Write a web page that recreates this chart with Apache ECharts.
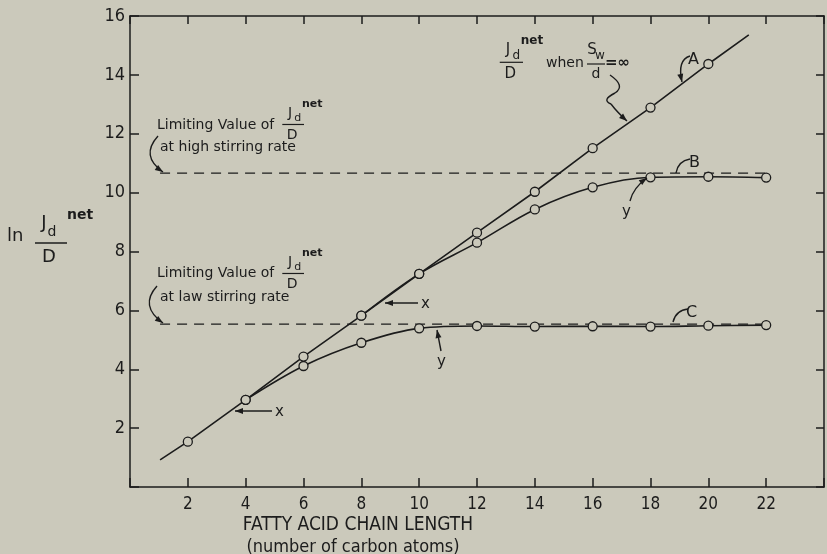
<!DOCTYPE html>
<html><head><meta charset="utf-8">
<script src="https://cdn.jsdelivr.net/npm/echarts@6/dist/echarts.min.js"></script>
<style>html,body{margin:0;padding:0;background:#cbc9bb}#c{width:827px;height:554px}</style>
</head><body><div id="c"></div>
<script>
// ---- data ----
const xTicks = [2, 4, 6, 8, 10, 12, 14, 16, 18, 20, 22];
const yTicks = [2, 4, 6, 8, 10, 12, 14, 16];
// curve A (J/D when Sw/d = infinity): points
const aX = [2, 4, 6, 8, 10, 12, 14, 16, 18, 20];
const aY = [1.54, 2.96, 4.43, 5.82, 7.24, 8.64, 10.03, 11.51, 12.89, 14.37];
// curve A drawn line extent
const aLineStart = [1.04, 0.92];
const aLineEnd = [21.4, 15.36];
// curve B (high stirring rate)
const bX = [8, 10, 12, 14, 16, 18, 20, 22];
const bY = [5.82, 7.24, 8.30, 9.43, 10.18, 10.52, 10.54, 10.51];
// curve C (low stirring rate)
const cX = [4, 6, 8, 10, 12, 14, 16, 18, 20, 22];
const cY = [2.96, 4.11, 4.90, 5.39, 5.47, 5.45, 5.46, 5.45, 5.48, 5.50];
// limiting values (dashed lines)
const limitHigh = 10.66;
const limitLow = 5.53;
const limitXRange = [1.04, 22];

const INK = '#1c1c1c', BG = '#cbc9bb';
const FONT = 'DejaVu Sans';
const NARROW = '"Liberation Sans Narrow","DejaVu Sans Condensed","Liberation Sans",sans-serif';

const chart = echarts.init(document.getElementById('c'));

function pts(xs, ys) { return xs.map((x, i) => [x, ys[i]]); }
const symStyle = { color: BG, borderColor: INK, borderWidth: 1.3 };

const aData = [{ value: aLineStart, symbol: 'none' }]
  .concat(pts(aX, aY).map(p => ({ value: p })))
  .concat([{ value: aLineEnd, symbol: 'none' }]);

function dashed(v) {
  return {
    type: 'line', data: [[limitXRange[0], v], [limitXRange[1], v]], symbol: 'none',
    lineStyle: { color: INK, width: 1.3, type: [10, 7] }, z: 1, silent: true
  };
}

// ---- annotation helpers ----
function txt(x, y, s, size, opts) {
  return Object.assign({
    type: 'text', x: x, y: y, z: 50,
    style: Object.assign({ text: s, fill: INK, font: size + 'px ' + FONT, textAlign: 'left', textVerticalAlign: 'middle' }, opts || {})
  });
}
function line(x1, y1, x2, y2, w) {
  return { type: 'line', z: 50, shape: { x1, y1, x2, y2 }, style: { stroke: INK, lineWidth: w || 1.3 } };
}
function head(tx, ty, fx, fy) {
  const dx = tx - fx, dy = ty - fy, L = Math.hypot(dx, dy), ux = dx / L, uy = dy / L;
  const bl = 8, bw = 3;
  const bx = tx - ux * bl, by = ty - uy * bl;
  return { type: 'polygon', z: 50, shape: { points: [[tx, ty], [bx - uy * bw, by + ux * bw], [bx + uy * bw, by - ux * bw]] }, style: { fill: INK } };
}
function curve(x1, y1, cx, cy, x2, y2, arrow) {
  const out = [{ type: 'bezierCurve', z: 50, shape: { x1, y1, x2, y2, cpx1: cx, cpy1: cy }, style: { stroke: INK, lineWidth: 1.4, fill: null } }];
  if (arrow) out.push(head(x2, y2, cx, cy));
  return out;
}
function arrowLine(x1, y1, x2, y2) { return [line(x1, y1, x2, y2, 1.4), head(x2, y2, x1, y1)]; }
function frac(jx, jy, size) {
  // J_d^net over D
  const s = size;
  return [
    txt(jx, jy, 'J', s, { textAlign: 'center' }),
    txt(jx + s * 0.55, jy + s * 0.38, 'd', Math.round(s * 0.8), { textAlign: 'center' }),
    txt(jx + s * 0.85, jy - s * 0.62, 'net', Math.round(s * 0.82), { font: 'bold ' + Math.round(s * 0.82) + 'px ' + FONT }),
    line(jx - s * 0.55, jy + s * 0.82, jx + s * 1.0, jy + s * 0.82, 1.2),
    txt(jx + s * 0.15, jy + s * 1.6, 'D', s, { textAlign: 'center' })
  ];
}

const g = [];
// y-axis title: ln J_d^net / D
g.push(txt(7, 236, 'ln', 18));
g.push(txt(44, 223, 'J', 18, { textAlign: 'center' }));
g.push(txt(52, 232, 'd', 14, { textAlign: 'center' }));
g.push(txt(67, 215, 'net', 14, { font: 'bold 14px ' + FONT }));
g.push(line(35, 243, 67, 243, 1.5));
g.push(txt(49, 257, 'D', 18, { textAlign: 'center' }));
// x-axis title
g.push(txt(358, 525, 'FATTY ACID CHAIN LENGTH', 19, { textAlign: 'center', font: '19px ' + NARROW }));
g.push(txt(353, 547, '(number of carbon atoms)', 18, { textAlign: 'center', font: '18px ' + NARROW }));

// high-stirring annotation
g.push(txt(157, 125, 'Limiting Value of', 14));
g.push(...frac(290, 113, 14));
g.push(txt(160, 147, 'at high stirring rate', 14));
g.push(...curve(158, 136, 140, 156, 163, 172, true));
// low-stirring annotation
g.push(txt(157, 273, 'Limiting Value of', 14));
g.push(...frac(290, 262, 14));
g.push(txt(160, 297, 'at law stirring rate', 14));
g.push(...curve(157, 286, 139, 306, 163, 323, true));

// top annotation: J/D when Sw/d = infinity
g.push(...frac(508, 50, 15));
g.push(txt(546, 63, 'when', 14));
g.push(txt(592, 50, 'S', 15, { textAlign: 'center' }));
g.push(txt(600, 56, 'w', 12, { textAlign: 'center' }));
g.push(line(587, 64, 605, 64, 1.2));
g.push(txt(596, 74, 'd', 14, { textAlign: 'center' }));
g.push(txt(605, 63, '=∞', 15, { font: 'bold 15px ' + FONT }));
g.push(...curve(610, 75, 626, 86, 615, 93, false));
g.push(...curve(615, 93, 601, 100, 611, 104, false));
g.push(...curve(611, 104, 617, 112, 627, 121, true));
// label A
g.push(txt(688, 60, 'A', 16));
g.push(...curve(690, 56, 677, 60, 682, 82, true));
// label B
g.push(txt(689, 163, 'B', 16));
g.push(...curve(676, 173, 678, 161, 690, 159, false));
// label C
g.push(txt(686, 313, 'C', 16));
g.push(...curve(673, 322, 676, 310, 688, 309, false));
// y markers
g.push(txt(622, 212, 'y', 15));
g.push(...curve(630, 201, 633, 188, 647, 178, true));
g.push(txt(437, 362, 'y', 15));
g.push(...arrowLine(441, 351, 437, 330));
// x markers
g.push(txt(421, 304, 'x', 15));
g.push(...arrowLine(418, 303, 385, 303));
g.push(txt(275, 412, 'x', 15));
g.push(...arrowLine(272, 411, 235, 411));

const axisLab = (hideSet, size) => ({
  color: INK, fontSize: size, fontFamily: NARROW,
  formatter: v => (hideSet.indexOf(v) >= 0 ? '' : String(v))
});
const axLine = { onZero: false, lineStyle: { color: INK, width: 1.5 } };

chart.setOption({
  backgroundColor: BG,
  animation: false,
  grid: { left: 130, right: 2, top: 16, bottom: 67 },
  xAxis: [
    {
      type: 'value', min: 0, max: 24, interval: 2, position: 'bottom',
      axisLine: axLine,
      axisTick: { inside: true, length: 9, lineStyle: { color: INK, width: 1.5 } },
      axisLabel: Object.assign(axisLab([0, 24], 17), { margin: 9 }),
      splitLine: { show: false }
    },
    {
      type: 'value', min: 0, max: 24, interval: 2, position: 'top',
      axisLine: axLine,
      axisTick: { inside: true, length: 8, lineStyle: { color: INK, width: 1.5 } },
      axisLabel: { show: false }, splitLine: { show: false }
    }
  ],
  yAxis: [
    {
      type: 'value', min: 0, max: 16, interval: 2, position: 'left',
      axisLine: axLine,
      axisTick: { inside: true, length: 9, lineStyle: { color: INK, width: 1.5 } },
      axisLabel: Object.assign(axisLab([0], 18), { margin: 5 }),
      splitLine: { show: false }
    },
    {
      type: 'value', min: 0, max: 16, interval: 2, position: 'right',
      axisLine: axLine,
      axisTick: { inside: true, length: 8, lineStyle: { color: INK, width: 1.5 } },
      axisLabel: { show: false }, splitLine: { show: false }
    }
  ],
  series: [
    dashed(limitHigh),
    dashed(limitLow),
    {
      type: 'line', data: aData, symbol: 'circle', symbolSize: 9,
      lineStyle: { color: INK, width: 1.6 }, itemStyle: symStyle, z: 5
    },
    {
      type: 'line', data: pts(bX, bY), symbol: 'circle', symbolSize: 9, smooth: 0.35,
      lineStyle: { color: INK, width: 1.6 }, itemStyle: symStyle, z: 4
    },
    {
      type: 'line', data: pts(cX, cY), symbol: 'circle', symbolSize: 9, smooth: 0.35,
      lineStyle: { color: INK, width: 1.6 }, itemStyle: symStyle, z: 4
    }
  ],
  graphic: g
});
</script></body></html>
